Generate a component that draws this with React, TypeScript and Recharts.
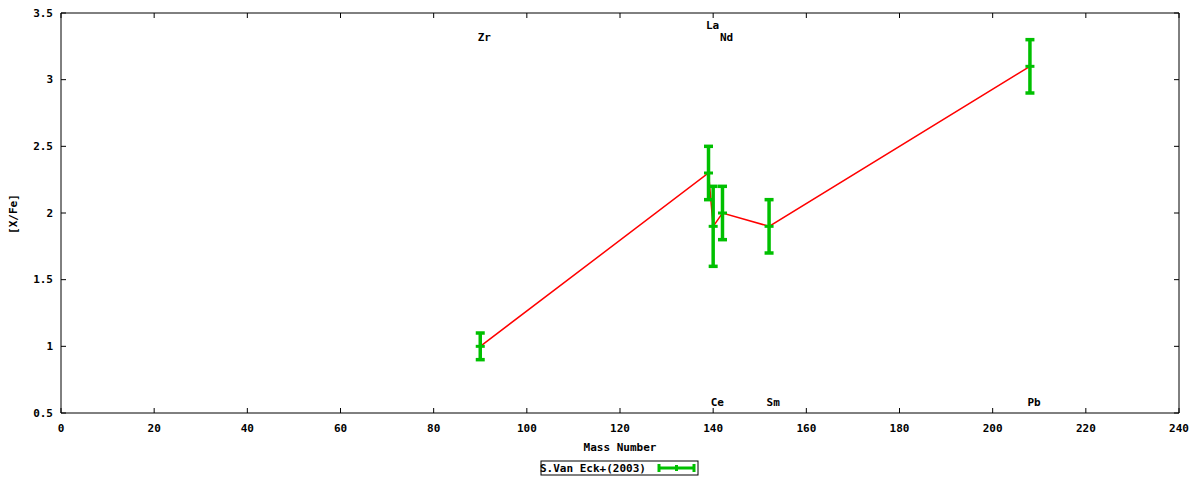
import React from 'react';
import { ComposedChart, Line, Scatter, ErrorBar, XAxis, YAxis } from 'recharts';

// measurements (mass number, [X/Fe], error)
const elements = ['Zr', 'La', 'Ce', 'Nd', 'Sm', 'Pb'];
const massNumbers = [90, 139, 140, 142, 152, 208];
const xFe = [1.0, 2.3, 1.9, 2.0, 1.9, 3.1];
const errors = [0.1, 0.2, 0.3, 0.2, 0.2, 0.2];

// element name labels
const labelNames = ['Zr', 'La', 'Nd', 'Ce', 'Sm', 'Pb'];
const labelX = [90, 139, 142, 140, 152, 208];
const labelY = [3.32, 3.41, 3.32, 0.58, 0.58, 0.58];

const xTicks = [0, 20, 40, 60, 80, 100, 120, 140, 160, 180, 200, 220, 240];
const yTicks = [0.5, 1, 1.5, 2, 2.5, 3, 3.5];

const data = elements.map((el, i) => ({ name: el, x: massNumbers[i], y: xFe[i], err: errors[i] }));
const labelData = labelNames.map((n, i) => ({ name: n, x: labelX[i], y: labelY[i] }));

const FONT = '"DejaVu Sans Mono", monospace';
const GREEN = '#00c000';
const RED = '#ff0000';

const BottomTick = (props: any) => {
    const { x, y, payload } = props;
    return (
        <g>
            <line x1={x} y1={y} x2={x} y2={y - 5} stroke="#000" />
            <text x={x} y={y + 15} textAnchor="middle" dominantBaseline="central" fontFamily={FONT} fontWeight="bold" fontSize={11} fill="#000">
                {payload.value}
            </text>
        </g>
    );
};

const TopTick = (props: any) => {
    const { x, y } = props;
    return <line x1={x} y1={y} x2={x} y2={y + 5} stroke="#000" />;
};

const LeftTick = (props: any) => {
    const { x, y, payload } = props;
    return (
        <g>
            <line x1={x} y1={y} x2={x + 5} y2={y} stroke="#000" />
            <text x={x - 8} y={y} textAnchor="end" dominantBaseline="central" fontFamily={FONT} fontWeight="bold" fontSize={11} fill="#000">
                {String(payload.value)}
            </text>
        </g>
    );
};

const RightTick = (props: any) => {
    const { x, y } = props;
    return <line x1={x} y1={y} x2={x - 5} y2={y} stroke="#000" />;
};

const PointMark = (props: any) => {
    const { cx, cy } = props;
    return <line x1={cx - 4.5} y1={cy} x2={cx + 4.5} y2={cy} stroke={GREEN} strokeWidth={3} />;
};

const NameLabel = (props: any) => {
    const { cx, cy, payload } = props;
    return (
        <text x={cx - 2.5} y={cy} textAnchor="start" dominantBaseline="central" fontFamily={FONT} fontWeight="bold" fontSize={11} fill="#000">
            {payload.name}
        </text>
    );
};

const App: React.FC = () => {
    return (
        <div style={{ position: 'absolute', left: 0, top: 0, width: 1200, height: 480, background: '#fff' }}>
            <ComposedChart
                width={1200}
                height={480}
                data={data}
                margin={{ top: 12, right: 20, left: 11, bottom: 37 }}
            >
                <XAxis
                    dataKey="x"
                    type="number"
                    domain={[0, 240]}
                    ticks={xTicks}
                    height={30}
                    tickSize={0}
                    tickMargin={0}
                    tickLine={false}
                    tick={<BottomTick />}
                    axisLine={{ stroke: '#000' }}
                    allowDataOverflow
                />
                <XAxis
                    xAxisId="top"
                    orientation="top"
                    dataKey="x"
                    type="number"
                    domain={[0, 240]}
                    ticks={xTicks}
                    height={1}
                    tickSize={0}
                    tickMargin={0}
                    tickLine={false}
                    tick={<TopTick />}
                    axisLine={{ stroke: '#000' }}
                />
                <YAxis
                    type="number"
                    domain={[0.5, 3.5]}
                    ticks={yTicks}
                    width={50}
                    tickSize={0}
                    tickMargin={0}
                    tickLine={false}
                    tick={<LeftTick />}
                    axisLine={{ stroke: '#000' }}
                    allowDataOverflow
                />
                <YAxis
                    yAxisId="right"
                    orientation="right"
                    type="number"
                    domain={[0.5, 3.5]}
                    ticks={yTicks}
                    width={1}
                    tickSize={0}
                    tickMargin={0}
                    tickLine={false}
                    tick={<RightTick />}
                    axisLine={{ stroke: '#000' }}
                />
                <Line
                    type="linear"
                    dataKey="y"
                    stroke={RED}
                    strokeWidth={1.5}
                    dot={false}
                    activeDot={false}
                    isAnimationActive={false}
                />
                <Scatter dataKey="y" fill={GREEN} shape={<PointMark />} isAnimationActive={false}>
                    <ErrorBar dataKey="err" direction="y" width={4.5} stroke={GREEN} strokeWidth={3.5} />
                </Scatter>
                <Scatter data={labelData} dataKey="y" shape={<NameLabel />} isAnimationActive={false} />
                {/* invisible series so the mirrored top/right axes are drawn */}
                <Line xAxisId="top" yAxisId="right" dataKey="y" stroke="none" dot={false} activeDot={false} legendType="none" isAnimationActive={false} />
            </ComposedChart>
            <svg width={1200} height={480} style={{ position: 'absolute', left: 0, top: 0, pointerEvents: 'none' }}>
                <text x={620} y={447} textAnchor="middle" dominantBaseline="central" fontFamily={FONT} fontWeight="bold" fontSize={11}>
                    Mass Number
                </text>
                <text
                    x={13}
                    y={214}
                    textAnchor="middle"
                    dominantBaseline="central"
                    fontFamily={FONT}
                    fontWeight="bold"
                    fontSize={11}
                    transform="rotate(-90 13 214)"
                >
                    [X/Fe]
                </text>
                <rect x={541} y={461} width={157} height={14} fill="none" stroke="#000" />
                <text x={540} y={468} textAnchor="start" dominantBaseline="central" fontFamily={FONT} fontWeight="bold" fontSize={11}>
                    S.Van Eck+(2003)
                </text>
                <line x1={659} y1={468} x2={694} y2={468} stroke={GREEN} strokeWidth={3} />
                <line x1={659} y1={464} x2={659} y2={472} stroke={GREEN} strokeWidth={3} />
                <line x1={694} y1={464} x2={694} y2={472} stroke={GREEN} strokeWidth={3} />
                <line x1={676.5} y1={465} x2={676.5} y2={471} stroke={GREEN} strokeWidth={3} />
            </svg>
        </div>
    );
};

export default App;
